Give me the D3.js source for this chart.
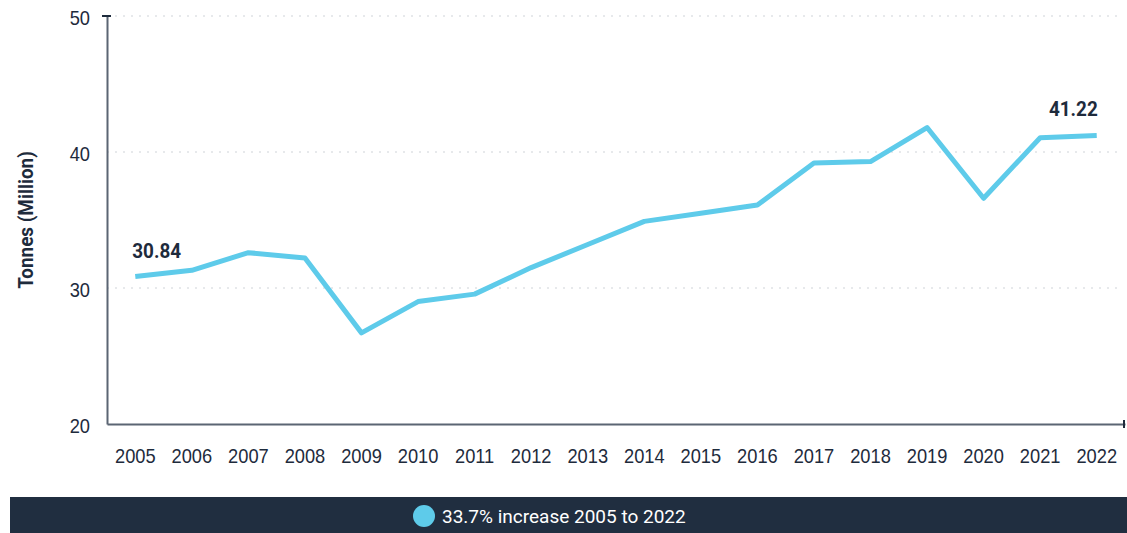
<!DOCTYPE html>
<html>
<head>
<meta charset="utf-8">
<script src="https://cdn.jsdelivr.net/npm/d3@7"></script>
<style>
  body { margin: 0; background: #fff; }
  svg { display: block; font-family: Roboto, "Noto Sans", sans-serif; }
</style>
</head>
<body>
<div id="chart"></div>
<script>
// datos
const years = [2005, 2006, 2007, 2008, 2009, 2010, 2011, 2012, 2013, 2014, 2015, 2016, 2017, 2018, 2019, 2020, 2021, 2022]
const tonnes = [30.84, 31.3, 32.6, 32.2, 26.7, 29.0, 29.55, 31.5, 33.2, 34.9, 35.5, 36.1, 39.2, 39.3, 41.8, 36.6, 41.05, 41.22]
const yTicks = [20, 30, 40, 50]
const legendText = "33.7% increase 2005 to 2022"

const width = 1127, height = 533
const margin = { top: 16, right: 2, bottom: 109, left: 107 }
const ink = "#1e2b3c"
const lineColor = "#5ecbea"
const narrow = 0.87 // imita Roboto Condensed

const svg = d3.select("#chart").append("svg")
    .attr("width", width)
    .attr("height", height)

const x = d3.scaleBand()
    .domain(years)
    .range([margin.left, width - margin.right])

const y = d3.scaleLinear()
    .domain([20, 50])
    .range([height - margin.bottom, margin.top])

const cx = d => x(d) + x.bandwidth() / 2

// grid punteada
svg.append("g")
    .selectAll("line")
    .data(yTicks.filter(t => t > 20))
    .join("line")
    .attr("x1", margin.left)
    .attr("x2", width - margin.right - 4)
    .attr("y1", d => y(d))
    .attr("y2", d => y(d))
    .attr("stroke", "#cfd3d8")
    .attr("stroke-width", 1)
    .attr("stroke-dasharray", "2,6")

// eje Y
const yAxis = svg.append("g")
    .attr("transform", `translate(${margin.left},0)`)
    .call(d3.axisLeft(y).tickValues(yTicks).tickSize(0).tickPadding(17 / narrow))
yAxis.select(".domain").attr("stroke", "#5b6573").attr("stroke-width", 2)
yAxis.selectAll("text")
    .attr("font-size", 21)
    .attr("fill", ink)
    .attr("dy", "0.4em")
    .attr("transform", `scale(${narrow},1)`)
yAxis.append("line")
    .attr("x1", -5).attr("x2", 4)
    .attr("y1", y(50)).attr("y2", y(50))
    .attr("stroke", ink).attr("stroke-width", 2)

// eje X
const xAxis = svg.append("g")
    .attr("transform", `translate(0,${y(20)})`)
    .call(d3.axisBottom(x).tickSize(0).tickPadding(24).tickSizeOuter(0))
xAxis.select(".domain").attr("stroke", "#5b6573").attr("stroke-width", 2)
xAxis.selectAll("text")
    .attr("font-size", 21)
    .attr("fill", ink)
    .attr("transform", `scale(${narrow},1)`)
xAxis.append("line")
    .attr("x1", x.range()[1] - 1).attr("x2", x.range()[1] - 1)
    .attr("y1", -4).attr("y2", 4)
    .attr("stroke", ink).attr("stroke-width", 2)

// etiqueta eje Y
svg.append("text")
    .attr("transform", `translate(33,${(y(20) + y(50)) / 2}) rotate(-90) scale(0.9,1)`)
    .attr("text-anchor", "middle")
    .attr("font-size", 21)
    .attr("font-weight", "bold")
    .attr("fill", ink)
    .text("Tonnes (Million)")

// linea
const line = d3.line()
    .x((d, i) => cx(years[i]))
    .y(d => y(d))

svg.append("path")
    .datum(tonnes)
    .attr("fill", "none")
    .attr("stroke", lineColor)
    .attr("stroke-width", 5)
    .attr("stroke-linejoin", "round")
    .attr("d", line)

// etiquetas de valores
const first = 0, last = years.length - 1
svg.append("text")
    .attr("transform", `translate(${cx(years[first]) - 3},${y(tonnes[first]) - 19}) scale(0.9,1)`)
    .attr("font-size", 21)
    .attr("font-weight", "bold")
    .attr("fill", ink)
    .text(tonnes[first].toFixed(2))

svg.append("text")
    .attr("transform", `translate(${cx(years[last]) + 1},${y(tonnes[last]) - 19}) scale(0.9,1)`)
    .attr("text-anchor", "end")
    .attr("font-size", 21)
    .attr("font-weight", "bold")
    .attr("fill", ink)
    .text(tonnes[last].toFixed(2))

// leyenda
svg.append("rect")
    .attr("x", 10)
    .attr("y", 497)
    .attr("width", width - 10)
    .attr("height", 36)
    .attr("fill", "#202e40")
const legend = svg.append("g")
legend.append("circle")
    .attr("cx", 424)
    .attr("cy", 516)
    .attr("r", 11)
    .attr("fill", lineColor)
legend.append("text")
    .attr("x", 442)
    .attr("y", 516)
    .attr("dy", "0.35em")
    .attr("font-size", 19)
    .attr("fill", "#ffffff")
    .text(legendText)
</script>
</body>
</html>
